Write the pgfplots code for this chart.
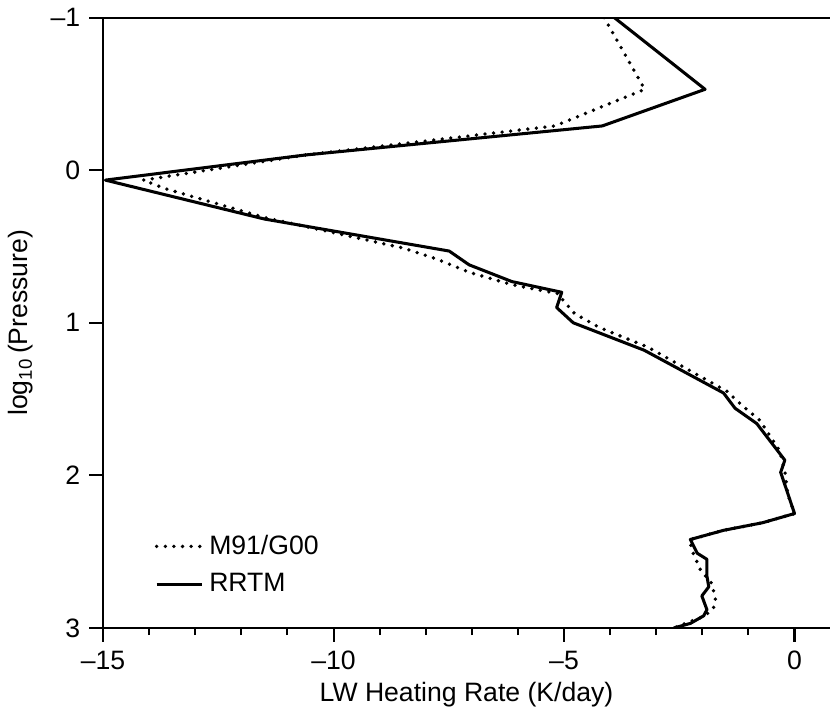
\documentclass[border=0pt]{standalone}
\usepackage{pgfplots}
\pgfplotsset{compat=1.18}
\usepackage{fontspec}
\setmainfont{Liberation Sans}
\begin{document}
\begin{tikzpicture}
\begin{axis}[
  scale only axis,
  width=287pt, height=241pt,
  xmin=-15, xmax=0.77, ymin=-1, ymax=3,
  y dir=reverse,
  axis y line*=left, axis x line*=bottom,
  axis line style={line width=0.8pt, -},
  xtick={-15,-10,-5,0},
  xticklabels={\textendash15,\textendash10,\textendash5,0},
  minor xtick={-14,-13,-12,-11,-9,-8,-7,-6,-4,-3,-2,-1},
  ytick={-1,0,1,2,3},
  yticklabels={\textendash1,0,1,2,3},
  tick align=outside,
  major tick length=5.5pt, minor tick length=2.8pt,
  every tick/.style={black, line width=0.8pt},
  tick label style={font=\fontsize{10.5}{12}\selectfont},
  label style={font=\fontsize{10.5}{12}\selectfont},
  xlabel={LW Heating Rate (K/day)},
  ylabel={log\textsubscript{10}\,(Pressure)},
  xlabel style={yshift=2pt},
  legend style={draw=none, fill=none, at={(0.06,0.17)}, anchor=north west,
    font=\fontsize{10.5}{12}\selectfont, row sep=2pt},
  legend cell align=left,
  legend image code/.code={\draw[#1] (0pt,0pt) -- (18pt,0pt);},
]
\addplot[black, line width=1.5pt, line cap=round, dash pattern=on 0pt off 3.4pt] coordinates {
  (-4.13,-1.0)(-3.25,-0.53)(-5.2,-0.29)(-10.6,-0.10)(-14.13,0.065)
  (-13.66,0.12)(-11.5,0.31)(-8.49,0.51)(-7.78,0.58)(-7.05,0.67)
  (-6.13,0.75)(-5.12,0.81)(-5.0,0.86)(-4.77,0.94)(-4.24,1.03)
  (-3.18,1.16)(-1.46,1.45)(-1.18,1.53)(-0.75,1.64)(-0.32,1.84)
  (-0.21,1.97)(-0.15,2.12)(0.0,2.25)(-0.69,2.31)(-1.54,2.36)
  (-2.26,2.42)(-2.24,2.48)(-2.04,2.62)(-1.79,2.71)(-1.71,2.82)
  (-1.76,2.87)(-1.94,2.92)(-2.11,2.94)(-2.62,3.0)};
\addlegendentry{M91/G00}
\addplot[black, line width=1.2pt, line join=round] coordinates {
  (-3.91,-1.0)(-1.94,-0.53)(-4.17,-0.29)(-10.6,-0.10)(-14.95,0.065)
  (-11.5,0.32)(-7.49,0.53)(-7.06,0.62)(-6.13,0.73)(-5.05,0.80)
  (-5.16,0.90)(-4.80,1.0)(-3.26,1.18)(-1.54,1.46)(-1.29,1.56)
  (-0.82,1.66)(-0.21,1.90)(-0.30,1.98)(0.0,2.25)(-0.69,2.31)
  (-1.54,2.36)(-2.26,2.42)(-2.11,2.51)(-1.90,2.55)(-1.90,2.66)
  (-1.86,2.73)(-2.01,2.79)(-1.90,2.88)(-1.97,2.92)(-2.26,2.97)
  (-2.62,3.0)};
\addlegendentry{RRTM}
\draw[line width=0.8pt] (rel axis cs:0,1) -- (rel axis cs:1,1);
\end{axis}
\end{tikzpicture}
\end{document}
